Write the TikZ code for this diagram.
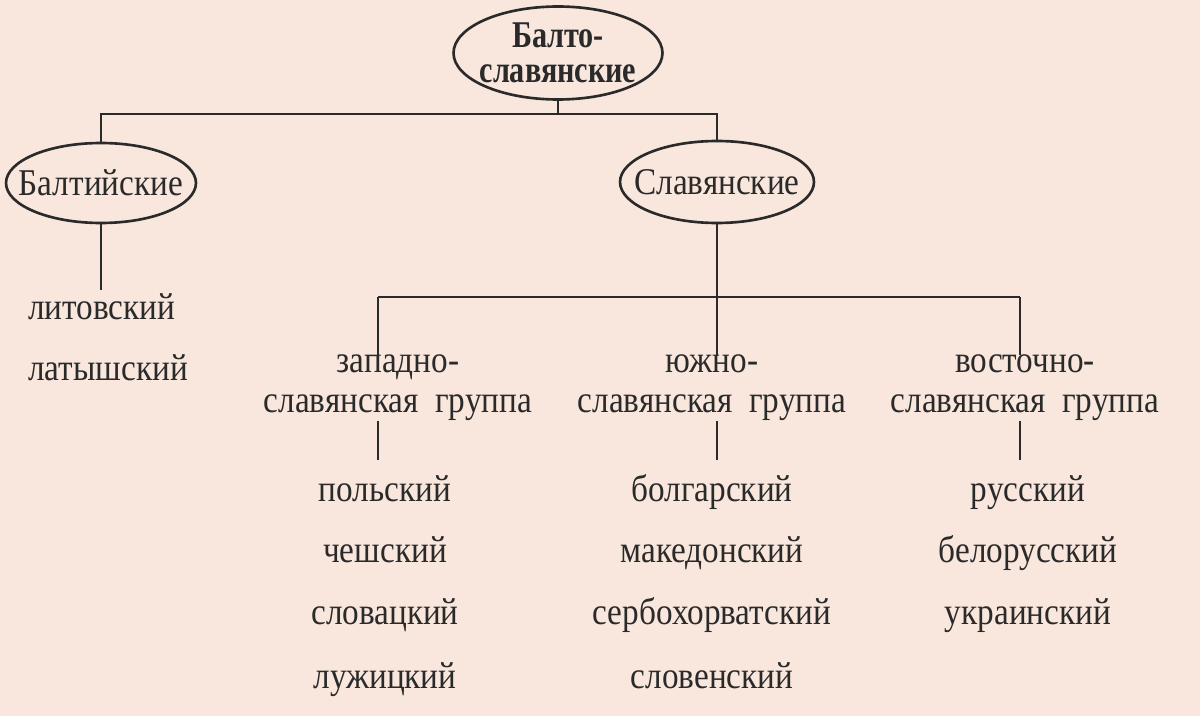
\documentclass[tikz,border=0pt]{standalone}
\usepackage{fontspec}
\setmainfont{Liberation Serif}[FakeStretch=0.88]
\newfontfamily\negrita{Liberation Serif}[FakeStretch=0.8]
\usepackage{tikz}
\usetikzlibrary{shapes.geometric}

\definecolor{fondo}{HTML}{F9E7DD}
\definecolor{tinta}{HTML}{2A2A2A}

\tikzset{
  rama/.style={draw=tinta, line width=1.5pt},
  elipse/.style={draw=tinta, line width=1.5pt, ellipse, inner sep=-20pt, text=tinta,
    font=\fontsize{21.5}{23}\selectfont},
  lengua/.style={text=tinta, inner sep=0pt, font=\fontsize{21.5}{23}\selectfont},
  grupo/.style={lengua, align=center, font=\fontsize{21.5}{22.8}\selectfont},
}

\begin{document}
\begin{tikzpicture}[x=0.02cm, y=-0.02cm]
            % Fondo
            \fill[fondo] (0,0) rectangle (1200,716);
            \useasboundingbox (0,0) rectangle (1200,716);

            % Elipses
            \node[elipse, minimum width=4.18cm, minimum height=1.86cm, align=center,
              font=\negrita\bfseries\fontsize{21.5}{20}\selectfont] (balto) at (558,53) {Балто-\\славянские};
            \node[elipse, minimum width=3.8cm, minimum height=1.6cm] (balt) at (101,183) {Балтийские};
            \node[elipse, minimum width=3.88cm, minimum height=1.64cm] (slav) at (717,182) {Славянские};

            % Grupos
            \node[grupo] (zap) at (398,388) {западно-\\славянская\ \ группа};
            \node[grupo] (yuzh) at (712,388) {южно-\\славянская\ \ группа};
            \node[grupo] (vost) at (1025,388) {восточно-\\славянская\ \ группа};

            % Lenguas
            \node[lengua, anchor=base west] (lit) at (28,319) {литовский};
            \node[lengua, anchor=base west] (lat) at (28,380) {латышский};

            \node[lengua, anchor=base] (pol) at (385,501) {польский};
            \node[lengua, anchor=base] (che) at (385,562) {чешский};
            \node[lengua, anchor=base] (slk) at (385,624) {словацкий};
            \node[lengua, anchor=base] (luz) at (385,688) {лужицкий};

            \node[lengua, anchor=base] (bol) at (712,501) {болгарский};
            \node[lengua, anchor=base] (mak) at (712,562) {македонский};
            \node[lengua, anchor=base] (ser) at (712,624) {сербохорватский};
            \node[lengua, anchor=base] (slo) at (712,688) {словенский};

            \node[lengua, anchor=base] (rus) at (1028,501) {русский};
            \node[lengua, anchor=base] (bel) at (1028,562) {белорусский};
            \node[lengua, anchor=base] (ukr) at (1028,624) {украинский};

            % Puntos de las lineas
            \coordinate (arriba) at (0,114);
            \coordinate (lb) at (101,290);
            \coordinate (zs) at (378,297);
            \coordinate (ys) at (717,297);
            \coordinate (vs) at (1020,297);
            \coordinate (zb) at (378,460);
            \coordinate (yb) at (717,460);
            \coordinate (vb) at (1020,460);

            % Lineas
            \draw[rama] (balto.south) -- (balto.south |- arriba);
            \draw[rama] (balt.north) -- (balt.north |- arriba) -- (slav.north |- arriba) -- (slav.north);
            \draw[rama] (balt.south) -- (lb);
            \draw[rama] (slav.south) -- (ys);
            \draw[rama] (zs) -- (vs);

            \draw[rama] (zs) -- (zs |- zap.north);
            \draw[rama] (ys) -- (ys |- yuzh.north);
            \draw[rama] (vs) -- (vs |- vost.north);

            \draw[rama] (zs |- zap.south) -- (zb);
            \draw[rama] (ys |- yuzh.south) -- (yb);
            \draw[rama] (vs |- vost.south) -- (vb);
\end{tikzpicture}
\end{document}
